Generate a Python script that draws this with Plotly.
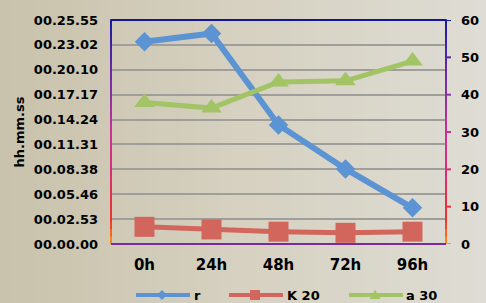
import plotly.graph_objects as go

categories = ["0h", "24h", "48h", "72h", "96h"]
r_values = [54.2, 56.4, 31.9, 20.1, 9.7]
k20_values = [4.6, 3.9, 3.3, 3.0, 3.3]
a30_values = [37.9, 36.4, 43.4, 43.7, 49.0]
left_tick_labels = ["00.00.00", "00.02.53", "00.05.46", "00.08.38", "00.11.31",
                    "00.14.24", "00.17.17", "00.20.10", "00.23.02", "00.25.55"]
right_ticks = [0, 10, 20, 30, 40, 50, 60]
series_names = ["r", "K 20", "a 30"]
series_colors = ["#5B93D3", "#D2665C", "#A2C465"]

YMAX = 60
FONT = "DejaVu Sans"
L, R, T, B = 111, 40, 20, 59
PW, PH = 486 - L - R, 303 - T - B

fig = go.Figure()
fig.add_trace(go.Scatter(x=categories, y=r_values, name=series_names[0], mode="lines+markers",
                         line=dict(color=series_colors[0], width=6),
                         marker=dict(symbol="diamond", size=15, color=series_colors[0])))
fig.add_trace(go.Scatter(x=categories, y=k20_values, name=series_names[1], mode="lines+markers",
                         line=dict(color=series_colors[1], width=5),
                         marker=dict(symbol="square", size=20, color=series_colors[1])))
fig.add_trace(go.Scatter(x=categories, y=a30_values, name=series_names[2], mode="lines+markers",
                         line=dict(color=series_colors[2], width=5),
                         marker=dict(symbol="triangle-up", size=18, color=series_colors[2])))
# invisible trace to activate right axis
fig.add_trace(go.Scatter(x=categories, y=[None] * len(categories), yaxis="y2",
                         showlegend=False, hoverinfo="skip"))

def lerp_color(stops, t):
    for i in range(len(stops) - 1):
        t0, c0 = stops[i]
        t1, c1 = stops[i + 1]
        if t0 <= t <= t1:
            f = (t - t0) / (t1 - t0) if t1 > t0 else 0
            c = [int(round(c0[k] + (c1[k] - c0[k]) * f)) for k in range(3)]
            return "rgb(%d,%d,%d)" % tuple(c)
    c = stops[-1][1]
    return "rgb(%d,%d,%d)" % tuple(c)

def px_x(px):
    return (px - L) / PW

def px_y(py):
    return (T + PH - py) / PH

shapes = []
annotations = []
# background gradient (left darker -> right lighter)
bg_stops = [(0.0, (201, 194, 172)), (0.5, (214, 209, 193)), (1.0, (222, 220, 212))]
N = 40
for i in range(N):
    shapes.append(dict(type="rect", xref="paper", yref="paper", layer="below",
                       x0=px_x(i * 486 / N), x1=px_x((i + 1) * 486 / N + 1),
                       y0=px_y(303), y1=px_y(0), line=dict(width=0),
                       fillcolor=lerp_color(bg_stops, i / (N - 1))))

# axis gradient: t=0 at bottom, 1 at top
ax_stops = [(0.0, (255, 150, 20)), (0.1, (240, 50, 40)), (0.3, (220, 45, 110)),
            (0.5, (200, 50, 150)), (0.7, (130, 45, 170)), (1.0, (25, 25, 160))]
M = 30
for side in (0, 1):
    for i in range(M):
        y0 = i / M
        y1 = (i + 1) / M
        shapes.append(dict(type="line", xref="paper", yref="paper", x0=side, x1=side,
                           y0=y0, y1=y1 + 0.003, line=dict(width=2, color=lerp_color(ax_stops, (i + 0.5) / M))))
# top & bottom borders
shapes.append(dict(type="line", xref="paper", yref="paper", x0=0, x1=1, y0=1, y1=1,
                   line=dict(width=2, color="#15159a")))
shapes.append(dict(type="line", xref="paper", yref="paper", x0=0, x1=1, y0=0, y1=0,
                   line=dict(width=2, color="#7a2aa0")))
# right axis ticks
for v in right_ticks:
    shapes.append(dict(type="line", xref="paper", yref="y2", x0=1, x1=1 + 5 / PW, y0=v, y1=v,
                       line=dict(width=2, color=lerp_color(ax_stops, v / YMAX))))

# manual legend
leg_y = 295
leg_items = [  # line start, line end, marker center, text start, marker path (pixels, y up)
    (136, 190, 162, 192, "M0,-5 L5,0 L0,5 L-5,0 Z"),
    (229, 283, 255, 285, "M-5,-5 H5 V5 H-5 Z"),
    (349, 403, 375, 404, "M0,5 L5.5,-4 L-5.5,-4 Z"),
]
for (x0, x1, xc, xt, path), name, col in zip(leg_items, series_names, series_colors):
    shapes.append(dict(type="line", xref="paper", yref="paper",
                       x0=px_x(x0), x1=px_x(x1), y0=px_y(leg_y), y1=px_y(leg_y),
                       line=dict(width=4, color=col)))
    shapes.append(dict(type="path", xref="paper", yref="paper",
                       xsizemode="pixel", ysizemode="pixel",
                       xanchor=px_x(xc), yanchor=px_y(leg_y),
                       path=path, fillcolor=col, line=dict(width=0)))
    annotations.append(dict(xref="paper", yref="paper", x=px_x(xt), y=px_y(leg_y),
                            xanchor="left", yanchor="middle", showarrow=False, text=name,
                            font=dict(family=FONT, size=13, color="#000", weight="bold")))

fig.update_layout(
    width=486, height=303,
    margin=dict(l=L, r=R, t=T, b=B, autoexpand=False),
    paper_bgcolor="#d6d1c2",
    plot_bgcolor="rgba(0,0,0,0)",
    shapes=shapes,
    annotations=annotations,
    showlegend=False,
    xaxis=dict(type="category", range=[-0.5, 4.5], showgrid=False, zeroline=False,
               showline=False, ticks="", ticklabelstandoff=10,
               tickfont=dict(family=FONT, size=15, color="#000", weight="bold")),
    yaxis=dict(range=[0, YMAX], tickvals=[i * YMAX / 9 for i in range(10)],
               ticktext=left_tick_labels, showgrid=True, gridcolor="#a09e9a", gridwidth=2,
               zeroline=False, showline=False, ticks="", ticklabelstandoff=12,
               tickfont=dict(family=FONT, size=13, color="#000", weight="bold"),
               title=dict(text="hh.mm.ss", standoff=6,
                          font=dict(family=FONT, size=13, color="#000", weight="bold"))),
    yaxis2=dict(range=[0, YMAX], overlaying="y", side="right", tickvals=right_ticks,
                showgrid=False, zeroline=False, showline=False, ticks="",
                ticklabelstandoff=14,
                tickfont=dict(family=FONT, size=13, color="#000", weight="bold")),
)
fig.write_html("out.html", config={"displayModeBar": False},
               post_script="document.body.style.margin='0';document.body.style.overflow='hidden';")
